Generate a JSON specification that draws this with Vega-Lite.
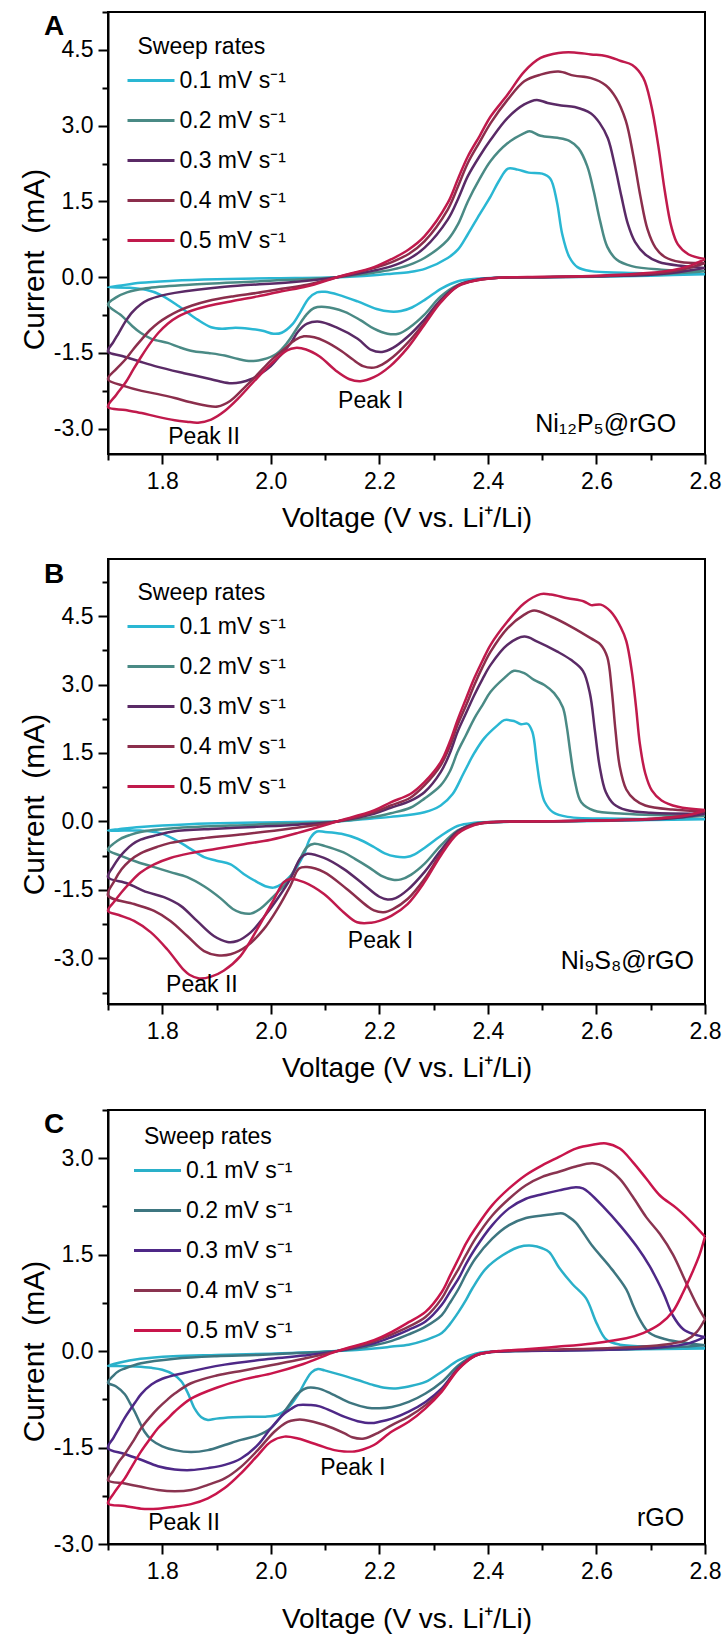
{
"$schema": "https://vega.github.io/schema/vega-lite/v6.json",
"background": "white",
"padding": {"left": 18, "top": 10, "right": 0, "bottom": 0},
"spacing": 25,
"config": {
  "font": "Liberation Sans",
  "view": {"stroke": "black", "strokeWidth": 2},
  "axis": {"domainColor": "black", "domainWidth": 2, "tickColor": "black", "tickWidth": 2, "labelFont": "Liberation Sans", "labelFontSize": 23, "labelColor": "black", "titleFont": "Liberation Sans", "titleFontSize": 30, "titleFontWeight": "normal", "titleColor": "black", "grid": false, "labelFlush": false, "labelOverlap": false},
  "axisX": {"labelPadding": 6, "titleFontSize": 28},
  "axisY": {"labelPadding": 5, "titlePadding": 4},
  "legend": {"orient": "none", "titleFont": "Liberation Sans", "titleFontSize": 23, "titleFontWeight": "normal", "titleColor": "black", "labelFont": "Liberation Sans", "labelFontSize": 23, "labelColor": "black", "symbolType": "M-2,0H2", "symbolSize": 552, "symbolStrokeWidth": 3, "labelOffset": 15, "rowPadding": 14, "titlePadding": 8, "padding": 0, "labelLimit": 400},
  "title": {"font": "Liberation Sans", "fontSize": 28, "fontWeight": "bold", "color": "black", "anchor": "start", "frame": "group", "align": "left", "baseline": "alphabetic", "offset": 0, "dx": -64, "dy": 33.5},
  "text": {"font": "Liberation Sans", "color": "black"}
},
"datasets": {
"A": [
{"r":"0.1","v":2.8,"c":0.06},{"r":"0.1","v":2.7,"c":0.03},{"r":"0.1","v":2.6,"c":0.01},{"r":"0.1","v":2.5,"c":0},{"r":"0.1","v":2.42,"c":-0.01},{"r":"0.1","v":2.38,"c":-0.03},{"r":"0.1","v":2.345,"c":-0.08},{"r":"0.1","v":2.315,"c":-0.22},{"r":"0.1","v":2.285,"c":-0.44},{"r":"0.1","v":2.26,"c":-0.6},{"r":"0.1","v":2.24,"c":-0.67},{"r":"0.1","v":2.22,"c":-0.68},{"r":"0.1","v":2.195,"c":-0.63},{"r":"0.1","v":2.16,"c":-0.48},{"r":"0.1","v":2.125,"c":-0.35},{"r":"0.1","v":2.1,"c":-0.29},{"r":"0.1","v":2.085,"c":-0.3},{"r":"0.1","v":2.07,"c":-0.42},{"r":"0.1","v":2.055,"c":-0.68},{"r":"0.1","v":2.04,"c":-0.93},{"r":"0.1","v":2.02,"c":-1.1},{"r":"0.1","v":2.005,"c":-1.12},{"r":"0.1","v":1.985,"c":-1.06},{"r":"0.1","v":1.96,"c":-1.02},{"r":"0.1","v":1.935,"c":-1.0},{"r":"0.1","v":1.91,"c":-1.02},{"r":"0.1","v":1.89,"c":-0.99},{"r":"0.1","v":1.865,"c":-0.84},{"r":"0.1","v":1.83,"c":-0.57},{"r":"0.1","v":1.795,"c":-0.34},{"r":"0.1","v":1.77,"c":-0.25},{"r":"0.1","v":1.74,"c":-0.21},{"r":"0.1","v":1.7,"c":-0.2},
{"r":"0.1","v":1.72,"c":-0.17},{"r":"0.1","v":1.76,"c":-0.11},{"r":"0.1","v":1.82,"c":-0.07},{"r":"0.1","v":1.9,"c":-0.04},{"r":"0.1","v":2.0,"c":-0.02},{"r":"0.1","v":2.122,"c":0},{"r":"0.1","v":2.19,"c":0.04},{"r":"0.1","v":2.223,"c":0.07},{"r":"0.1","v":2.254,"c":0.1},{"r":"0.1","v":2.285,"c":0.17},{"r":"0.1","v":2.326,"c":0.38},{"r":"0.1","v":2.345,"c":0.55},{"r":"0.1","v":2.363,"c":0.85},{"r":"0.1","v":2.385,"c":1.25},{"r":"0.1","v":2.405,"c":1.6},{"r":"0.1","v":2.42,"c":1.9},{"r":"0.1","v":2.437,"c":2.15},{"r":"0.1","v":2.455,"c":2.13},{"r":"0.1","v":2.475,"c":2.07},{"r":"0.1","v":2.5,"c":2.05},{"r":"0.1","v":2.515,"c":1.95},{"r":"0.1","v":2.527,"c":1.5},{"r":"0.1","v":2.537,"c":0.85},{"r":"0.1","v":2.55,"c":0.4},{"r":"0.1","v":2.565,"c":0.2},{"r":"0.1","v":2.59,"c":0.12},{"r":"0.1","v":2.65,"c":0.09},{"r":"0.1","v":2.75,"c":0.07},{"r":"0.1","v":2.8,"c":0.06},
{"r":"0.2","v":2.8,"c":0.12},{"r":"0.2","v":2.7,"c":0.05},{"r":"0.2","v":2.6,"c":0.02},{"r":"0.2","v":2.5,"c":0},{"r":"0.2","v":2.42,"c":-0.01},{"r":"0.2","v":2.38,"c":-0.05},{"r":"0.2","v":2.345,"c":-0.15},{"r":"0.2","v":2.313,"c":-0.38},{"r":"0.2","v":2.283,"c":-0.74},{"r":"0.2","v":2.255,"c":-1.0},{"r":"0.2","v":2.235,"c":-1.12},{"r":"0.2","v":2.215,"c":-1.12},{"r":"0.2","v":2.19,"c":-1.02},{"r":"0.2","v":2.165,"c":-0.85},{"r":"0.2","v":2.135,"c":-0.68},{"r":"0.2","v":2.1,"c":-0.59},{"r":"0.2","v":2.08,"c":-0.61},{"r":"0.2","v":2.065,"c":-0.75},{"r":"0.2","v":2.05,"c":-0.98},{"r":"0.2","v":2.03,"c":-1.3},{"r":"0.2","v":2.01,"c":-1.52},{"r":"0.2","v":1.985,"c":-1.63},{"r":"0.2","v":1.963,"c":-1.66},{"r":"0.2","v":1.94,"c":-1.62},{"r":"0.2","v":1.915,"c":-1.55},{"r":"0.2","v":1.885,"c":-1.5},{"r":"0.2","v":1.855,"c":-1.46},{"r":"0.2","v":1.83,"c":-1.38},{"r":"0.2","v":1.81,"c":-1.3},{"r":"0.2","v":1.78,"c":-1.22},{"r":"0.2","v":1.76,"c":-1.1},{"r":"0.2","v":1.745,"c":-0.97},{"r":"0.2","v":1.726,"c":-0.77},{"r":"0.2","v":1.7,"c":-0.54},
{"r":"0.2","v":1.715,"c":-0.4},{"r":"0.2","v":1.735,"c":-0.3},{"r":"0.2","v":1.77,"c":-0.22},{"r":"0.2","v":1.85,"c":-0.15},{"r":"0.2","v":1.98,"c":-0.08},{"r":"0.2","v":2.122,"c":0},{"r":"0.2","v":2.19,"c":0.09},{"r":"0.2","v":2.223,"c":0.15},{"r":"0.2","v":2.254,"c":0.24},{"r":"0.2","v":2.283,"c":0.38},{"r":"0.2","v":2.326,"c":0.74},{"r":"0.2","v":2.345,"c":1.05},{"r":"0.2","v":2.363,"c":1.5},{"r":"0.2","v":2.385,"c":1.95},{"r":"0.2","v":2.405,"c":2.3},{"r":"0.2","v":2.436,"c":2.65},{"r":"0.2","v":2.467,"c":2.85},{"r":"0.2","v":2.477,"c":2.89},{"r":"0.2","v":2.497,"c":2.8},{"r":"0.2","v":2.528,"c":2.76},{"r":"0.2","v":2.55,"c":2.7},{"r":"0.2","v":2.567,"c":2.55},{"r":"0.2","v":2.583,"c":2.2},{"r":"0.2","v":2.595,"c":1.7},{"r":"0.2","v":2.607,"c":1.1},{"r":"0.2","v":2.62,"c":0.6},{"r":"0.2","v":2.637,"c":0.35},{"r":"0.2","v":2.665,"c":0.22},{"r":"0.2","v":2.72,"c":0.15},{"r":"0.2","v":2.8,"c":0.12},
{"r":"0.3","v":2.8,"c":0.18},{"r":"0.3","v":2.75,"c":0.1},{"r":"0.3","v":2.7,"c":0.05},{"r":"0.3","v":2.6,"c":0.02},{"r":"0.3","v":2.5,"c":0},{"r":"0.3","v":2.42,"c":-0.01},{"r":"0.3","v":2.38,"c":-0.05},{"r":"0.3","v":2.345,"c":-0.16},{"r":"0.3","v":2.313,"c":-0.45},{"r":"0.3","v":2.283,"c":-0.84},{"r":"0.3","v":2.252,"c":-1.18},{"r":"0.3","v":2.225,"c":-1.4},{"r":"0.3","v":2.205,"c":-1.48},{"r":"0.3","v":2.185,"c":-1.44},{"r":"0.3","v":2.16,"c":-1.22},{"r":"0.3","v":2.12,"c":-0.99},{"r":"0.3","v":2.09,"c":-0.88},{"r":"0.3","v":2.067,"c":-0.92},{"r":"0.3","v":2.05,"c":-1.08},{"r":"0.3","v":2.037,"c":-1.3},{"r":"0.3","v":2.015,"c":-1.58},{"r":"0.3","v":2.0,"c":-1.76},{"r":"0.3","v":1.98,"c":-1.92},{"r":"0.3","v":1.963,"c":-2.02},{"r":"0.3","v":1.945,"c":-2.08},{"r":"0.3","v":1.927,"c":-2.1},{"r":"0.3","v":1.905,"c":-2.06},{"r":"0.3","v":1.89,"c":-2.02},{"r":"0.3","v":1.84,"c":-1.9},{"r":"0.3","v":1.79,"c":-1.77},{"r":"0.3","v":1.756,"c":-1.66},{"r":"0.3","v":1.726,"c":-1.56},{"r":"0.3","v":1.7,"c":-1.47},
{"r":"0.3","v":1.71,"c":-1.28},{"r":"0.3","v":1.72,"c":-1.1},{"r":"0.3","v":1.732,"c":-0.88},{"r":"0.3","v":1.744,"c":-0.7},{"r":"0.3","v":1.76,"c":-0.54},{"r":"0.3","v":1.774,"c":-0.45},{"r":"0.3","v":1.8,"c":-0.36},{"r":"0.3","v":1.823,"c":-0.31},{"r":"0.3","v":1.915,"c":-0.19},{"r":"0.3","v":2.037,"c":-0.1},{"r":"0.3","v":2.122,"c":0},{"r":"0.3","v":2.19,"c":0.13},{"r":"0.3","v":2.223,"c":0.22},{"r":"0.3","v":2.254,"c":0.36},{"r":"0.3","v":2.283,"c":0.58},{"r":"0.3","v":2.326,"c":1.14},{"r":"0.3","v":2.345,"c":1.55},{"r":"0.3","v":2.363,"c":2.0},{"r":"0.3","v":2.385,"c":2.4},{"r":"0.3","v":2.405,"c":2.72},{"r":"0.3","v":2.436,"c":3.15},{"r":"0.3","v":2.467,"c":3.42},{"r":"0.3","v":2.49,"c":3.51},{"r":"0.3","v":2.51,"c":3.45},{"r":"0.3","v":2.535,"c":3.4},{"r":"0.3","v":2.56,"c":3.37},{"r":"0.3","v":2.59,"c":3.24},{"r":"0.3","v":2.606,"c":3.05},{"r":"0.3","v":2.621,"c":2.75},{"r":"0.3","v":2.634,"c":2.2},{"r":"0.3","v":2.646,"c":1.6},{"r":"0.3","v":2.658,"c":1.05},{"r":"0.3","v":2.671,"c":0.7},{"r":"0.3","v":2.69,"c":0.45},{"r":"0.3","v":2.715,"c":0.3},{"r":"0.3","v":2.76,"c":0.22},{"r":"0.3","v":2.8,"c":0.18},
{"r":"0.4","v":2.8,"c":0.28},{"r":"0.4","v":2.77,"c":0.18},{"r":"0.4","v":2.73,"c":0.1},{"r":"0.4","v":2.68,"c":0.06},{"r":"0.4","v":2.6,"c":0.02},{"r":"0.4","v":2.5,"c":0},{"r":"0.4","v":2.42,"c":-0.01},{"r":"0.4","v":2.38,"c":-0.06},{"r":"0.4","v":2.345,"c":-0.17},{"r":"0.4","v":2.313,"c":-0.48},{"r":"0.4","v":2.283,"c":-0.9},{"r":"0.4","v":2.252,"c":-1.3},{"r":"0.4","v":2.225,"c":-1.58},{"r":"0.4","v":2.205,"c":-1.73},{"r":"0.4","v":2.19,"c":-1.79},{"r":"0.4","v":2.17,"c":-1.76},{"r":"0.4","v":2.15,"c":-1.62},{"r":"0.4","v":2.13,"c":-1.46},{"r":"0.4","v":2.1,"c":-1.27},{"r":"0.4","v":2.08,"c":-1.19},{"r":"0.4","v":2.061,"c":-1.17},{"r":"0.4","v":2.045,"c":-1.24},{"r":"0.4","v":2.025,"c":-1.42},{"r":"0.4","v":2.0,"c":-1.65},{"r":"0.4","v":1.975,"c":-1.93},{"r":"0.4","v":1.95,"c":-2.2},{"r":"0.4","v":1.925,"c":-2.45},{"r":"0.4","v":1.902,"c":-2.56},{"r":"0.4","v":1.88,"c":-2.54},{"r":"0.4","v":1.85,"c":-2.47},{"r":"0.4","v":1.823,"c":-2.39},{"r":"0.4","v":1.79,"c":-2.31},{"r":"0.4","v":1.762,"c":-2.25},{"r":"0.4","v":1.732,"c":-2.16},{"r":"0.4","v":1.7,"c":-2.02},
{"r":"0.4","v":1.715,"c":-1.82},{"r":"0.4","v":1.732,"c":-1.63},{"r":"0.4","v":1.747,"c":-1.42},{"r":"0.4","v":1.762,"c":-1.23},{"r":"0.4","v":1.777,"c":-1.05},{"r":"0.4","v":1.793,"c":-0.9},{"r":"0.4","v":1.81,"c":-0.78},{"r":"0.4","v":1.829,"c":-0.67},{"r":"0.4","v":1.855,"c":-0.56},{"r":"0.4","v":1.884,"c":-0.47},{"r":"0.4","v":1.93,"c":-0.38},{"r":"0.4","v":1.976,"c":-0.31},{"r":"0.4","v":2.02,"c":-0.23},{"r":"0.4","v":2.067,"c":-0.15},{"r":"0.4","v":2.122,"c":0},{"r":"0.4","v":2.19,"c":0.18},{"r":"0.4","v":2.223,"c":0.3},{"r":"0.4","v":2.254,"c":0.46},{"r":"0.4","v":2.283,"c":0.71},{"r":"0.4","v":2.326,"c":1.34},{"r":"0.4","v":2.345,"c":1.8},{"r":"0.4","v":2.363,"c":2.26},{"r":"0.4","v":2.385,"c":2.68},{"r":"0.4","v":2.405,"c":3.05},{"r":"0.4","v":2.436,"c":3.51},{"r":"0.4","v":2.467,"c":3.88},{"r":"0.4","v":2.497,"c":4.01},{"r":"0.4","v":2.53,"c":4.07},{"r":"0.4","v":2.559,"c":3.99},{"r":"0.4","v":2.59,"c":3.94},{"r":"0.4","v":2.617,"c":3.8},{"r":"0.4","v":2.636,"c":3.55},{"r":"0.4","v":2.654,"c":3.1},{"r":"0.4","v":2.668,"c":2.4},{"r":"0.4","v":2.681,"c":1.6},{"r":"0.4","v":2.694,"c":0.95},{"r":"0.4","v":2.709,"c":0.58},{"r":"0.4","v":2.726,"c":0.4},{"r":"0.4","v":2.755,"c":0.3},{"r":"0.4","v":2.8,"c":0.28},
{"r":"0.5","v":2.8,"c":0.36},{"r":"0.5","v":2.77,"c":0.22},{"r":"0.5","v":2.74,"c":0.14},{"r":"0.5","v":2.7,"c":0.09},{"r":"0.5","v":2.6,"c":0.03},{"r":"0.5","v":2.5,"c":0.01},{"r":"0.5","v":2.42,"c":-0.01},{"r":"0.5","v":2.38,"c":-0.06},{"r":"0.5","v":2.345,"c":-0.18},{"r":"0.5","v":2.313,"c":-0.5},{"r":"0.5","v":2.283,"c":-0.94},{"r":"0.5","v":2.252,"c":-1.4},{"r":"0.5","v":2.22,"c":-1.76},{"r":"0.5","v":2.19,"c":-1.98},{"r":"0.5","v":2.165,"c":-2.06},{"r":"0.5","v":2.145,"c":-2.02},{"r":"0.5","v":2.12,"c":-1.85},{"r":"0.5","v":2.09,"c":-1.57},{"r":"0.5","v":2.065,"c":-1.43},{"r":"0.5","v":2.045,"c":-1.4},{"r":"0.5","v":2.03,"c":-1.45},{"r":"0.5","v":2.0,"c":-1.72},{"r":"0.5","v":1.97,"c":-2.05},{"r":"0.5","v":1.94,"c":-2.4},{"r":"0.5","v":1.915,"c":-2.65},{"r":"0.5","v":1.89,"c":-2.82},{"r":"0.5","v":1.866,"c":-2.88},{"r":"0.5","v":1.845,"c":-2.86},{"r":"0.5","v":1.823,"c":-2.83},{"r":"0.5","v":1.79,"c":-2.76},{"r":"0.5","v":1.762,"c":-2.69},{"r":"0.5","v":1.732,"c":-2.63},{"r":"0.5","v":1.7,"c":-2.57},
{"r":"0.5","v":1.715,"c":-2.33},{"r":"0.5","v":1.732,"c":-2.09},{"r":"0.5","v":1.747,"c":-1.82},{"r":"0.5","v":1.762,"c":-1.56},{"r":"0.5","v":1.777,"c":-1.32},{"r":"0.5","v":1.793,"c":-1.1},{"r":"0.5","v":1.81,"c":-0.92},{"r":"0.5","v":1.829,"c":-0.78},{"r":"0.5","v":1.855,"c":-0.66},{"r":"0.5","v":1.884,"c":-0.57},{"r":"0.5","v":1.93,"c":-0.47},{"r":"0.5","v":1.976,"c":-0.38},{"r":"0.5","v":2.02,"c":-0.28},{"r":"0.5","v":2.067,"c":-0.18},{"r":"0.5","v":2.122,"c":0},{"r":"0.5","v":2.19,"c":0.2},{"r":"0.5","v":2.223,"c":0.36},{"r":"0.5","v":2.254,"c":0.55},{"r":"0.5","v":2.283,"c":0.81},{"r":"0.5","v":2.326,"c":1.47},{"r":"0.5","v":2.345,"c":1.95},{"r":"0.5","v":2.363,"c":2.39},{"r":"0.5","v":2.385,"c":2.8},{"r":"0.5","v":2.405,"c":3.18},{"r":"0.5","v":2.436,"c":3.61},{"r":"0.5","v":2.467,"c":4.07},{"r":"0.5","v":2.497,"c":4.34},{"r":"0.5","v":2.53,"c":4.44},{"r":"0.5","v":2.559,"c":4.45},{"r":"0.5","v":2.59,"c":4.41},{"r":"0.5","v":2.617,"c":4.38},{"r":"0.5","v":2.645,"c":4.28},{"r":"0.5","v":2.666,"c":4.2},{"r":"0.5","v":2.686,"c":3.95},{"r":"0.5","v":2.701,"c":3.4},{"r":"0.5","v":2.714,"c":2.6},{"r":"0.5","v":2.726,"c":1.7},{"r":"0.5","v":2.738,"c":1.0},{"r":"0.5","v":2.75,"c":0.65},{"r":"0.5","v":2.77,"c":0.45},{"r":"0.5","v":2.8,"c":0.36}
],
"B": [
{"r":"0.1","v":2.8,"c":0.05},{"r":"0.1","v":2.7,"c":0.03},{"r":"0.1","v":2.6,"c":0.01},{"r":"0.1","v":2.5,"c":0},{"r":"0.1","v":2.42,"c":-0.01},{"r":"0.1","v":2.375,"c":-0.03},{"r":"0.1","v":2.344,"c":-0.1},{"r":"0.1","v":2.313,"c":-0.32},{"r":"0.1","v":2.283,"c":-0.58},{"r":"0.1","v":2.265,"c":-0.72},{"r":"0.1","v":2.25,"c":-0.78},{"r":"0.1","v":2.23,"c":-0.77},{"r":"0.1","v":2.21,"c":-0.7},{"r":"0.1","v":2.19,"c":-0.56},{"r":"0.1","v":2.16,"c":-0.38},{"r":"0.1","v":2.13,"c":-0.27},{"r":"0.1","v":2.1,"c":-0.23},{"r":"0.1","v":2.085,"c":-0.22},{"r":"0.1","v":2.073,"c":-0.36},{"r":"0.1","v":2.061,"c":-0.72},{"r":"0.1","v":2.048,"c":-1.0},{"r":"0.1","v":2.036,"c":-1.2},{"r":"0.1","v":2.02,"c":-1.37},{"r":"0.1","v":2.005,"c":-1.45},{"r":"0.1","v":1.99,"c":-1.42},{"r":"0.1","v":1.975,"c":-1.33},{"r":"0.1","v":1.95,"c":-1.15},{"r":"0.1","v":1.926,"c":-0.94},{"r":"0.1","v":1.9,"c":-0.86},{"r":"0.1","v":1.877,"c":-0.78},{"r":"0.1","v":1.852,"c":-0.6},{"r":"0.1","v":1.821,"c":-0.38},{"r":"0.1","v":1.791,"c":-0.24},{"r":"0.1","v":1.76,"c":-0.2},{"r":"0.1","v":1.73,"c":-0.2},{"r":"0.1","v":1.7,"c":-0.2},
{"r":"0.1","v":1.72,"c":-0.17},{"r":"0.1","v":1.76,"c":-0.12},{"r":"0.1","v":1.85,"c":-0.06},{"r":"0.1","v":1.95,"c":-0.03},{"r":"0.1","v":2.05,"c":-0.01},{"r":"0.1","v":2.122,"c":0},{"r":"0.1","v":2.19,"c":0.07},{"r":"0.1","v":2.221,"c":0.1},{"r":"0.1","v":2.283,"c":0.2},{"r":"0.1","v":2.313,"c":0.35},{"r":"0.1","v":2.335,"c":0.6},{"r":"0.1","v":2.355,"c":1.05},{"r":"0.1","v":2.375,"c":1.5},{"r":"0.1","v":2.393,"c":1.82},{"r":"0.1","v":2.418,"c":2.11},{"r":"0.1","v":2.43,"c":2.22},{"r":"0.1","v":2.448,"c":2.2},{"r":"0.1","v":2.461,"c":2.13},{"r":"0.1","v":2.473,"c":2.14},{"r":"0.1","v":2.482,"c":1.96},{"r":"0.1","v":2.49,"c":1.3},{"r":"0.1","v":2.497,"c":0.75},{"r":"0.1","v":2.505,"c":0.42},{"r":"0.1","v":2.52,"c":0.2},{"r":"0.1","v":2.547,"c":0.1},{"r":"0.1","v":2.65,"c":0.06},{"r":"0.1","v":2.8,"c":0.05},
{"r":"0.2","v":2.8,"c":0.12},{"r":"0.2","v":2.7,"c":0.05},{"r":"0.2","v":2.6,"c":0.02},{"r":"0.2","v":2.5,"c":0},{"r":"0.2","v":2.42,"c":-0.01},{"r":"0.2","v":2.375,"c":-0.05},{"r":"0.2","v":2.344,"c":-0.2},{"r":"0.2","v":2.313,"c":-0.53},{"r":"0.2","v":2.283,"c":-0.93},{"r":"0.2","v":2.258,"c":-1.17},{"r":"0.2","v":2.24,"c":-1.27},{"r":"0.2","v":2.225,"c":-1.28},{"r":"0.2","v":2.205,"c":-1.2},{"r":"0.2","v":2.18,"c":-1.0},{"r":"0.2","v":2.155,"c":-0.82},{"r":"0.2","v":2.134,"c":-0.68},{"r":"0.2","v":2.1,"c":-0.54},{"r":"0.2","v":2.08,"c":-0.49},{"r":"0.2","v":2.067,"c":-0.56},{"r":"0.2","v":2.048,"c":-0.96},{"r":"0.2","v":2.03,"c":-1.32},{"r":"0.2","v":2.0,"c":-1.7},{"r":"0.2","v":1.98,"c":-1.92},{"r":"0.2","v":1.963,"c":-2.02},{"r":"0.2","v":1.945,"c":-2.0},{"r":"0.2","v":1.93,"c":-1.92},{"r":"0.2","v":1.907,"c":-1.68},{"r":"0.2","v":1.877,"c":-1.42},{"r":"0.2","v":1.846,"c":-1.22},{"r":"0.2","v":1.815,"c":-1.11},{"r":"0.2","v":1.785,"c":-1.0},{"r":"0.2","v":1.754,"c":-0.89},{"r":"0.2","v":1.723,"c":-0.75},{"r":"0.2","v":1.7,"c":-0.62},
{"r":"0.2","v":1.712,"c":-0.47},{"r":"0.2","v":1.723,"c":-0.38},{"r":"0.2","v":1.74,"c":-0.3},{"r":"0.2","v":1.76,"c":-0.23},{"r":"0.2","v":1.82,"c":-0.15},{"r":"0.2","v":1.97,"c":-0.07},{"r":"0.2","v":2.122,"c":0},{"r":"0.2","v":2.19,"c":0.1},{"r":"0.2","v":2.221,"c":0.18},{"r":"0.2","v":2.257,"c":0.3},{"r":"0.2","v":2.283,"c":0.5},{"r":"0.2","v":2.313,"c":0.79},{"r":"0.2","v":2.33,"c":1.1},{"r":"0.2","v":2.344,"c":1.52},{"r":"0.2","v":2.36,"c":1.9},{"r":"0.2","v":2.375,"c":2.26},{"r":"0.2","v":2.39,"c":2.55},{"r":"0.2","v":2.405,"c":2.84},{"r":"0.2","v":2.43,"c":3.14},{"r":"0.2","v":2.448,"c":3.3},{"r":"0.2","v":2.467,"c":3.25},{"r":"0.2","v":2.485,"c":3.1},{"r":"0.2","v":2.504,"c":2.99},{"r":"0.2","v":2.522,"c":2.81},{"r":"0.2","v":2.538,"c":2.5},{"r":"0.2","v":2.545,"c":2.1},{"r":"0.2","v":2.552,"c":1.5},{"r":"0.2","v":2.56,"c":0.9},{"r":"0.2","v":2.572,"c":0.42},{"r":"0.2","v":2.595,"c":0.24},{"r":"0.2","v":2.651,"c":0.17},{"r":"0.2","v":2.8,"c":0.12},
{"r":"0.3","v":2.8,"c":0.17},{"r":"0.3","v":2.75,"c":0.08},{"r":"0.3","v":2.7,"c":0.04},{"r":"0.3","v":2.6,"c":0.02},{"r":"0.3","v":2.5,"c":0},{"r":"0.3","v":2.42,"c":-0.01},{"r":"0.3","v":2.375,"c":-0.06},{"r":"0.3","v":2.344,"c":-0.22},{"r":"0.3","v":2.313,"c":-0.64},{"r":"0.3","v":2.283,"c":-1.11},{"r":"0.3","v":2.252,"c":-1.5},{"r":"0.3","v":2.23,"c":-1.68},{"r":"0.3","v":2.215,"c":-1.71},{"r":"0.3","v":2.2,"c":-1.65},{"r":"0.3","v":2.171,"c":-1.38},{"r":"0.3","v":2.134,"c":-1.04},{"r":"0.3","v":2.098,"c":-0.8},{"r":"0.3","v":2.067,"c":-0.71},{"r":"0.3","v":2.055,"c":-0.8},{"r":"0.3","v":2.036,"c":-1.26},{"r":"0.3","v":2.012,"c":-1.7},{"r":"0.3","v":1.987,"c":-2.1},{"r":"0.3","v":1.963,"c":-2.43},{"r":"0.3","v":1.938,"c":-2.62},{"r":"0.3","v":1.92,"c":-2.64},{"r":"0.3","v":1.895,"c":-2.51},{"r":"0.3","v":1.864,"c":-2.18},{"r":"0.3","v":1.834,"c":-1.85},{"r":"0.3","v":1.803,"c":-1.66},{"r":"0.3","v":1.772,"c":-1.55},{"r":"0.3","v":1.736,"c":-1.36},{"r":"0.3","v":1.7,"c":-1.22},
{"r":"0.3","v":1.71,"c":-0.98},{"r":"0.3","v":1.72,"c":-0.8},{"r":"0.3","v":1.73,"c":-0.66},{"r":"0.3","v":1.745,"c":-0.5},{"r":"0.3","v":1.76,"c":-0.4},{"r":"0.3","v":1.79,"c":-0.3},{"r":"0.3","v":1.82,"c":-0.22},{"r":"0.3","v":1.9,"c":-0.16},{"r":"0.3","v":1.97,"c":-0.12},{"r":"0.3","v":2.05,"c":-0.07},{"r":"0.3","v":2.122,"c":0},{"r":"0.3","v":2.19,"c":0.17},{"r":"0.3","v":2.221,"c":0.3},{"r":"0.3","v":2.257,"c":0.45},{"r":"0.3","v":2.283,"c":0.64},{"r":"0.3","v":2.313,"c":1.08},{"r":"0.3","v":2.33,"c":1.5},{"r":"0.3","v":2.344,"c":1.96},{"r":"0.3","v":2.36,"c":2.38},{"r":"0.3","v":2.375,"c":2.77},{"r":"0.3","v":2.39,"c":3.12},{"r":"0.3","v":2.405,"c":3.43},{"r":"0.3","v":2.436,"c":3.87},{"r":"0.3","v":2.467,"c":4.05},{"r":"0.3","v":2.491,"c":3.94},{"r":"0.3","v":2.528,"c":3.72},{"r":"0.3","v":2.553,"c":3.54},{"r":"0.3","v":2.575,"c":3.3},{"r":"0.3","v":2.588,"c":2.8},{"r":"0.3","v":2.597,"c":2.0},{"r":"0.3","v":2.606,"c":1.2},{"r":"0.3","v":2.617,"c":0.65},{"r":"0.3","v":2.632,"c":0.38},{"r":"0.3","v":2.655,"c":0.25},{"r":"0.3","v":2.7,"c":0.19},{"r":"0.3","v":2.8,"c":0.17},
{"r":"0.4","v":2.8,"c":0.22},{"r":"0.4","v":2.76,"c":0.12},{"r":"0.4","v":2.7,"c":0.06},{"r":"0.4","v":2.6,"c":0.02},{"r":"0.4","v":2.5,"c":0},{"r":"0.4","v":2.42,"c":-0.01},{"r":"0.4","v":2.375,"c":-0.07},{"r":"0.4","v":2.344,"c":-0.25},{"r":"0.4","v":2.313,"c":-0.71},{"r":"0.4","v":2.283,"c":-1.26},{"r":"0.4","v":2.252,"c":-1.7},{"r":"0.4","v":2.225,"c":-1.92},{"r":"0.4","v":2.208,"c":-1.99},{"r":"0.4","v":2.19,"c":-1.95},{"r":"0.4","v":2.177,"c":-1.85},{"r":"0.4","v":2.14,"c":-1.48},{"r":"0.4","v":2.098,"c":-1.11},{"r":"0.4","v":2.067,"c":-1.0},{"r":"0.4","v":2.052,"c":-1.03},{"r":"0.4","v":2.036,"c":-1.41},{"r":"0.4","v":2.012,"c":-1.92},{"r":"0.4","v":1.987,"c":-2.36},{"r":"0.4","v":1.956,"c":-2.73},{"r":"0.4","v":1.926,"c":-2.91},{"r":"0.4","v":1.901,"c":-2.93},{"r":"0.4","v":1.877,"c":-2.84},{"r":"0.4","v":1.846,"c":-2.51},{"r":"0.4","v":1.815,"c":-2.18},{"r":"0.4","v":1.785,"c":-1.96},{"r":"0.4","v":1.748,"c":-1.81},{"r":"0.4","v":1.7,"c":-1.62},
{"r":"0.4","v":1.712,"c":-1.3},{"r":"0.4","v":1.725,"c":-1.05},{"r":"0.4","v":1.74,"c":-0.86},{"r":"0.4","v":1.76,"c":-0.7},{"r":"0.4","v":1.79,"c":-0.56},{"r":"0.4","v":1.815,"c":-0.47},{"r":"0.4","v":1.88,"c":-0.36},{"r":"0.4","v":1.95,"c":-0.28},{"r":"0.4","v":2.04,"c":-0.15},{"r":"0.4","v":2.122,"c":0},{"r":"0.4","v":2.19,"c":0.2},{"r":"0.4","v":2.221,"c":0.35},{"r":"0.4","v":2.257,"c":0.52},{"r":"0.4","v":2.283,"c":0.79},{"r":"0.4","v":2.313,"c":1.23},{"r":"0.4","v":2.33,"c":1.65},{"r":"0.4","v":2.344,"c":2.11},{"r":"0.4","v":2.36,"c":2.55},{"r":"0.4","v":2.375,"c":2.99},{"r":"0.4","v":2.39,"c":3.38},{"r":"0.4","v":2.405,"c":3.72},{"r":"0.4","v":2.436,"c":4.23},{"r":"0.4","v":2.467,"c":4.53},{"r":"0.4","v":2.485,"c":4.62},{"r":"0.4","v":2.516,"c":4.49},{"r":"0.4","v":2.553,"c":4.27},{"r":"0.4","v":2.59,"c":4.01},{"r":"0.4","v":2.608,"c":3.87},{"r":"0.4","v":2.62,"c":3.6},{"r":"0.4","v":2.628,"c":2.9},{"r":"0.4","v":2.635,"c":2.0},{"r":"0.4","v":2.643,"c":1.2},{"r":"0.4","v":2.655,"c":0.7},{"r":"0.4","v":2.67,"c":0.48},{"r":"0.4","v":2.69,"c":0.35},{"r":"0.4","v":2.74,"c":0.26},{"r":"0.4","v":2.8,"c":0.22},
{"r":"0.5","v":2.8,"c":0.25},{"r":"0.5","v":2.77,"c":0.14},{"r":"0.5","v":2.72,"c":0.07},{"r":"0.5","v":2.65,"c":0.03},{"r":"0.5","v":2.55,"c":0.01},{"r":"0.5","v":2.45,"c":0},{"r":"0.5","v":2.4,"c":-0.02},{"r":"0.5","v":2.375,"c":-0.08},{"r":"0.5","v":2.344,"c":-0.27},{"r":"0.5","v":2.313,"c":-0.75},{"r":"0.5","v":2.283,"c":-1.33},{"r":"0.5","v":2.252,"c":-1.81},{"r":"0.5","v":2.222,"c":-2.07},{"r":"0.5","v":2.2,"c":-2.18},{"r":"0.5","v":2.185,"c":-2.22},{"r":"0.5","v":2.159,"c":-2.21},{"r":"0.5","v":2.134,"c":-1.99},{"r":"0.5","v":2.098,"c":-1.59},{"r":"0.5","v":2.061,"c":-1.33},{"r":"0.5","v":2.036,"c":-1.26},{"r":"0.5","v":2.024,"c":-1.33},{"r":"0.5","v":2.006,"c":-1.7},{"r":"0.5","v":1.975,"c":-2.36},{"r":"0.5","v":1.944,"c":-2.95},{"r":"0.5","v":1.913,"c":-3.27},{"r":"0.5","v":1.89,"c":-3.4},{"r":"0.5","v":1.868,"c":-3.44},{"r":"0.5","v":1.85,"c":-3.36},{"r":"0.5","v":1.84,"c":-3.26},{"r":"0.5","v":1.809,"c":-2.8},{"r":"0.5","v":1.779,"c":-2.43},{"r":"0.5","v":1.748,"c":-2.18},{"r":"0.5","v":1.72,"c":-2.05},{"r":"0.5","v":1.7,"c":-1.96},
{"r":"0.5","v":1.712,"c":-1.75},{"r":"0.5","v":1.725,"c":-1.55},{"r":"0.5","v":1.74,"c":-1.35},{"r":"0.5","v":1.76,"c":-1.12},{"r":"0.5","v":1.785,"c":-0.94},{"r":"0.5","v":1.815,"c":-0.8},{"r":"0.5","v":1.85,"c":-0.7},{"r":"0.5","v":1.9,"c":-0.6},{"r":"0.5","v":1.95,"c":-0.5},{"r":"0.5","v":2.0,"c":-0.4},{"r":"0.5","v":2.05,"c":-0.25},{"r":"0.5","v":2.122,"c":0},{"r":"0.5","v":2.19,"c":0.24},{"r":"0.5","v":2.221,"c":0.42},{"r":"0.5","v":2.257,"c":0.6},{"r":"0.5","v":2.283,"c":0.86},{"r":"0.5","v":2.313,"c":1.3},{"r":"0.5","v":2.33,"c":1.75},{"r":"0.5","v":2.344,"c":2.22},{"r":"0.5","v":2.36,"c":2.7},{"r":"0.5","v":2.375,"c":3.14},{"r":"0.5","v":2.39,"c":3.52},{"r":"0.5","v":2.405,"c":3.87},{"r":"0.5","v":2.436,"c":4.38},{"r":"0.5","v":2.467,"c":4.78},{"r":"0.5","v":2.497,"c":4.98},{"r":"0.5","v":2.516,"c":4.97},{"r":"0.5","v":2.547,"c":4.89},{"r":"0.5","v":2.577,"c":4.82},{"r":"0.5","v":2.59,"c":4.74},{"r":"0.5","v":2.608,"c":4.75},{"r":"0.5","v":2.626,"c":4.6},{"r":"0.5","v":2.645,"c":4.25},{"r":"0.5","v":2.655,"c":3.95},{"r":"0.5","v":2.665,"c":3.3},{"r":"0.5","v":2.673,"c":2.5},{"r":"0.5","v":2.68,"c":1.7},{"r":"0.5","v":2.69,"c":1.05},{"r":"0.5","v":2.702,"c":0.68},{"r":"0.5","v":2.72,"c":0.46},{"r":"0.5","v":2.75,"c":0.32},{"r":"0.5","v":2.8,"c":0.25}
],
"C": [
{"r":"0.1","v":2.8,"c":0.04},{"r":"0.1","v":2.6,"c":0.02},{"r":"0.1","v":2.45,"c":0},{"r":"0.1","v":2.4,"c":-0.01},{"r":"0.1","v":2.377,"c":-0.04},{"r":"0.1","v":2.346,"c":-0.14},{"r":"0.1","v":2.315,"c":-0.32},{"r":"0.1","v":2.285,"c":-0.48},{"r":"0.1","v":2.254,"c":-0.55},{"r":"0.1","v":2.23,"c":-0.58},{"r":"0.1","v":2.21,"c":-0.57},{"r":"0.1","v":2.19,"c":-0.53},{"r":"0.1","v":2.16,"c":-0.45},{"r":"0.1","v":2.129,"c":-0.37},{"r":"0.1","v":2.099,"c":-0.3},{"r":"0.1","v":2.087,"c":-0.28},{"r":"0.1","v":2.075,"c":-0.33},{"r":"0.1","v":2.065,"c":-0.45},{"r":"0.1","v":2.05,"c":-0.68},{"r":"0.1","v":2.031,"c":-0.89},{"r":"0.1","v":2.013,"c":-0.99},{"r":"0.1","v":1.99,"c":-1.02},{"r":"0.1","v":1.96,"c":-1.02},{"r":"0.1","v":1.93,"c":-1.03},{"r":"0.1","v":1.9,"c":-1.05},{"r":"0.1","v":1.884,"c":-1.07},{"r":"0.1","v":1.872,"c":-1.03},{"r":"0.1","v":1.86,"c":-0.9},{"r":"0.1","v":1.847,"c":-0.65},{"r":"0.1","v":1.835,"c":-0.47},{"r":"0.1","v":1.82,"c":-0.36},{"r":"0.1","v":1.8,"c":-0.29},{"r":"0.1","v":1.78,"c":-0.26},{"r":"0.1","v":1.75,"c":-0.24},{"r":"0.1","v":1.72,"c":-0.23},{"r":"0.1","v":1.7,"c":-0.23},
{"r":"0.1","v":1.72,"c":-0.18},{"r":"0.1","v":1.76,"c":-0.12},{"r":"0.1","v":1.82,"c":-0.08},{"r":"0.1","v":1.9,"c":-0.06},{"r":"0.1","v":2.0,"c":-0.04},{"r":"0.1","v":2.122,"c":0},{"r":"0.1","v":2.19,"c":0.04},{"r":"0.1","v":2.223,"c":0.07},{"r":"0.1","v":2.254,"c":0.1},{"r":"0.1","v":2.285,"c":0.17},{"r":"0.1","v":2.315,"c":0.28},{"r":"0.1","v":2.33,"c":0.42},{"r":"0.1","v":2.346,"c":0.61},{"r":"0.1","v":2.36,"c":0.8},{"r":"0.1","v":2.371,"c":0.97},{"r":"0.1","v":2.396,"c":1.28},{"r":"0.1","v":2.427,"c":1.49},{"r":"0.1","v":2.457,"c":1.62},{"r":"0.1","v":2.482,"c":1.64},{"r":"0.1","v":2.5,"c":1.6},{"r":"0.1","v":2.513,"c":1.54},{"r":"0.1","v":2.531,"c":1.3},{"r":"0.1","v":2.556,"c":1.04},{"r":"0.1","v":2.581,"c":0.82},{"r":"0.1","v":2.6,"c":0.44},{"r":"0.1","v":2.618,"c":0.18},{"r":"0.1","v":2.643,"c":0.1},{"r":"0.1","v":2.717,"c":0.07},{"r":"0.1","v":2.8,"c":0.05},
{"r":"0.2","v":2.8,"c":0.09},{"r":"0.2","v":2.7,"c":0.04},{"r":"0.2","v":2.6,"c":0.02},{"r":"0.2","v":2.45,"c":0},{"r":"0.2","v":2.4,"c":-0.02},{"r":"0.2","v":2.377,"c":-0.06},{"r":"0.2","v":2.346,"c":-0.22},{"r":"0.2","v":2.315,"c":-0.48},{"r":"0.2","v":2.285,"c":-0.66},{"r":"0.2","v":2.254,"c":-0.79},{"r":"0.2","v":2.223,"c":-0.87},{"r":"0.2","v":2.2,"c":-0.89},{"r":"0.2","v":2.178,"c":-0.88},{"r":"0.2","v":2.148,"c":-0.81},{"r":"0.2","v":2.111,"c":-0.66},{"r":"0.2","v":2.087,"c":-0.58},{"r":"0.2","v":2.068,"c":-0.57},{"r":"0.2","v":2.05,"c":-0.66},{"r":"0.2","v":2.037,"c":-0.8},{"r":"0.2","v":2.025,"c":-0.94},{"r":"0.2","v":2.0,"c":-1.2},{"r":"0.2","v":1.976,"c":-1.31},{"r":"0.2","v":1.945,"c":-1.38},{"r":"0.2","v":1.915,"c":-1.46},{"r":"0.2","v":1.884,"c":-1.54},{"r":"0.2","v":1.853,"c":-1.57},{"r":"0.2","v":1.823,"c":-1.54},{"r":"0.2","v":1.8,"c":-1.48},{"r":"0.2","v":1.78,"c":-1.38},{"r":"0.2","v":1.767,"c":-1.25},{"r":"0.2","v":1.758,"c":-1.1},{"r":"0.2","v":1.749,"c":-0.94},{"r":"0.2","v":1.74,"c":-0.8},{"r":"0.2","v":1.731,"c":-0.67},{"r":"0.2","v":1.715,"c":-0.55},{"r":"0.2","v":1.7,"c":-0.49},
{"r":"0.2","v":1.71,"c":-0.38},{"r":"0.2","v":1.72,"c":-0.31},{"r":"0.2","v":1.731,"c":-0.27},{"r":"0.2","v":1.761,"c":-0.19},{"r":"0.2","v":1.823,"c":-0.12},{"r":"0.2","v":1.9,"c":-0.08},{"r":"0.2","v":1.976,"c":-0.06},{"r":"0.2","v":2.05,"c":-0.03},{"r":"0.2","v":2.122,"c":0},{"r":"0.2","v":2.19,"c":0.09},{"r":"0.2","v":2.223,"c":0.16},{"r":"0.2","v":2.254,"c":0.26},{"r":"0.2","v":2.285,"c":0.38},{"r":"0.2","v":2.315,"c":0.56},{"r":"0.2","v":2.33,"c":0.75},{"r":"0.2","v":2.346,"c":0.97},{"r":"0.2","v":2.36,"c":1.2},{"r":"0.2","v":2.377,"c":1.44},{"r":"0.2","v":2.408,"c":1.75},{"r":"0.2","v":2.439,"c":1.96},{"r":"0.2","v":2.47,"c":2.07},{"r":"0.2","v":2.5,"c":2.11},{"r":"0.2","v":2.52,"c":2.13},{"r":"0.2","v":2.538,"c":2.14},{"r":"0.2","v":2.55,"c":2.08},{"r":"0.2","v":2.562,"c":2.0},{"r":"0.2","v":2.593,"c":1.63},{"r":"0.2","v":2.624,"c":1.32},{"r":"0.2","v":2.655,"c":0.96},{"r":"0.2","v":2.668,"c":0.7},{"r":"0.2","v":2.68,"c":0.49},{"r":"0.2","v":2.698,"c":0.28},{"r":"0.2","v":2.729,"c":0.18},{"r":"0.2","v":2.8,"c":0.09},
{"r":"0.3","v":2.8,"c":0.22},{"r":"0.3","v":2.77,"c":0.12},{"r":"0.3","v":2.72,"c":0.06},{"r":"0.3","v":2.65,"c":0.03},{"r":"0.3","v":2.55,"c":0.01},{"r":"0.3","v":2.45,"c":0},{"r":"0.3","v":2.4,"c":-0.02},{"r":"0.3","v":2.377,"c":-0.07},{"r":"0.3","v":2.346,"c":-0.26},{"r":"0.3","v":2.315,"c":-0.58},{"r":"0.3","v":2.285,"c":-0.79},{"r":"0.3","v":2.254,"c":-0.94},{"r":"0.3","v":2.223,"c":-1.05},{"r":"0.3","v":2.2,"c":-1.1},{"r":"0.3","v":2.185,"c":-1.12},{"r":"0.3","v":2.16,"c":-1.09},{"r":"0.3","v":2.135,"c":-1.02},{"r":"0.3","v":2.111,"c":-0.93},{"r":"0.3","v":2.09,"c":-0.86},{"r":"0.3","v":2.074,"c":-0.84},{"r":"0.3","v":2.05,"c":-0.84},{"r":"0.3","v":2.037,"c":-0.9},{"r":"0.3","v":2.025,"c":-0.97},{"r":"0.3","v":2.0,"c":-1.2},{"r":"0.3","v":1.976,"c":-1.46},{"r":"0.3","v":1.945,"c":-1.67},{"r":"0.3","v":1.915,"c":-1.77},{"r":"0.3","v":1.884,"c":-1.82},{"r":"0.3","v":1.853,"c":-1.85},{"r":"0.3","v":1.823,"c":-1.84},{"r":"0.3","v":1.792,"c":-1.79},{"r":"0.3","v":1.761,"c":-1.69},{"r":"0.3","v":1.731,"c":-1.6},{"r":"0.3","v":1.7,"c":-1.51},
{"r":"0.3","v":1.71,"c":-1.35},{"r":"0.3","v":1.72,"c":-1.2},{"r":"0.3","v":1.73,"c":-1.05},{"r":"0.3","v":1.74,"c":-0.92},{"r":"0.3","v":1.75,"c":-0.8},{"r":"0.3","v":1.761,"c":-0.67},{"r":"0.3","v":1.78,"c":-0.52},{"r":"0.3","v":1.8,"c":-0.43},{"r":"0.3","v":1.84,"c":-0.34},{"r":"0.3","v":1.915,"c":-0.21},{"r":"0.3","v":2.0,"c":-0.12},{"r":"0.3","v":2.06,"c":-0.07},{"r":"0.3","v":2.122,"c":0},{"r":"0.3","v":2.19,"c":0.12},{"r":"0.3","v":2.223,"c":0.22},{"r":"0.3","v":2.254,"c":0.33},{"r":"0.3","v":2.285,"c":0.46},{"r":"0.3","v":2.315,"c":0.72},{"r":"0.3","v":2.33,"c":0.92},{"r":"0.3","v":2.346,"c":1.13},{"r":"0.3","v":2.36,"c":1.36},{"r":"0.3","v":2.377,"c":1.6},{"r":"0.3","v":2.408,"c":1.96},{"r":"0.3","v":2.439,"c":2.22},{"r":"0.3","v":2.47,"c":2.37},{"r":"0.3","v":2.5,"c":2.44},{"r":"0.3","v":2.531,"c":2.5},{"r":"0.3","v":2.562,"c":2.55},{"r":"0.3","v":2.575,"c":2.53},{"r":"0.3","v":2.587,"c":2.46},{"r":"0.3","v":2.612,"c":2.25},{"r":"0.3","v":2.643,"c":1.96},{"r":"0.3","v":2.674,"c":1.63},{"r":"0.3","v":2.698,"c":1.32},{"r":"0.3","v":2.723,"c":0.91},{"r":"0.3","v":2.741,"c":0.55},{"r":"0.3","v":2.76,"c":0.34},{"r":"0.3","v":2.78,"c":0.26},{"r":"0.3","v":2.8,"c":0.22},
{"r":"0.4","v":2.8,"c":0.5},{"r":"0.4","v":2.785,"c":0.3},{"r":"0.4","v":2.765,"c":0.17},{"r":"0.4","v":2.74,"c":0.12},{"r":"0.4","v":2.7,"c":0.08},{"r":"0.4","v":2.6,"c":0.04},{"r":"0.4","v":2.5,"c":0.02},{"r":"0.4","v":2.43,"c":0},{"r":"0.4","v":2.4,"c":-0.02},{"r":"0.4","v":2.377,"c":-0.07},{"r":"0.4","v":2.346,"c":-0.27},{"r":"0.4","v":2.315,"c":-0.61},{"r":"0.4","v":2.285,"c":-0.84},{"r":"0.4","v":2.254,"c":-1.02},{"r":"0.4","v":2.223,"c":-1.15},{"r":"0.4","v":2.2,"c":-1.26},{"r":"0.4","v":2.172,"c":-1.36},{"r":"0.4","v":2.15,"c":-1.34},{"r":"0.4","v":2.136,"c":-1.28},{"r":"0.4","v":2.099,"c":-1.15},{"r":"0.4","v":2.062,"c":-1.07},{"r":"0.4","v":2.045,"c":-1.07},{"r":"0.4","v":2.031,"c":-1.1},{"r":"0.4","v":2.007,"c":-1.25},{"r":"0.4","v":1.976,"c":-1.54},{"r":"0.4","v":1.945,"c":-1.8},{"r":"0.4","v":1.915,"c":-1.98},{"r":"0.4","v":1.884,"c":-2.08},{"r":"0.4","v":1.853,"c":-2.16},{"r":"0.4","v":1.823,"c":-2.18},{"r":"0.4","v":1.792,"c":-2.16},{"r":"0.4","v":1.761,"c":-2.11},{"r":"0.4","v":1.731,"c":-2.06},{"r":"0.4","v":1.7,"c":-2.01},
{"r":"0.4","v":1.71,"c":-1.86},{"r":"0.4","v":1.72,"c":-1.72},{"r":"0.4","v":1.731,"c":-1.6},{"r":"0.4","v":1.745,"c":-1.42},{"r":"0.4","v":1.761,"c":-1.2},{"r":"0.4","v":1.777,"c":-1.03},{"r":"0.4","v":1.792,"c":-0.89},{"r":"0.4","v":1.81,"c":-0.75},{"r":"0.4","v":1.823,"c":-0.66},{"r":"0.4","v":1.853,"c":-0.5},{"r":"0.4","v":1.9,"c":-0.38},{"r":"0.4","v":1.95,"c":-0.3},{"r":"0.4","v":2.0,"c":-0.22},{"r":"0.4","v":2.06,"c":-0.12},{"r":"0.4","v":2.122,"c":0},{"r":"0.4","v":2.19,"c":0.15},{"r":"0.4","v":2.223,"c":0.26},{"r":"0.4","v":2.254,"c":0.38},{"r":"0.4","v":2.285,"c":0.53},{"r":"0.4","v":2.315,"c":0.82},{"r":"0.4","v":2.33,"c":1.05},{"r":"0.4","v":2.346,"c":1.28},{"r":"0.4","v":2.36,"c":1.5},{"r":"0.4","v":2.377,"c":1.75},{"r":"0.4","v":2.408,"c":2.11},{"r":"0.4","v":2.439,"c":2.37},{"r":"0.4","v":2.47,"c":2.58},{"r":"0.4","v":2.5,"c":2.71},{"r":"0.4","v":2.531,"c":2.79},{"r":"0.4","v":2.562,"c":2.87},{"r":"0.4","v":2.593,"c":2.92},{"r":"0.4","v":2.618,"c":2.85},{"r":"0.4","v":2.643,"c":2.68},{"r":"0.4","v":2.667,"c":2.4},{"r":"0.4","v":2.692,"c":2.08},{"r":"0.4","v":2.717,"c":1.82},{"r":"0.4","v":2.741,"c":1.5},{"r":"0.4","v":2.766,"c":1.05},{"r":"0.4","v":2.785,"c":0.72},{"r":"0.4","v":2.8,"c":0.5},
{"r":"0.5","v":2.8,"c":1.78},{"r":"0.5","v":2.79,"c":1.5},{"r":"0.5","v":2.778,"c":1.25},{"r":"0.5","v":2.76,"c":0.92},{"r":"0.5","v":2.741,"c":0.62},{"r":"0.5","v":2.717,"c":0.42},{"r":"0.5","v":2.686,"c":0.28},{"r":"0.5","v":2.655,"c":0.2},{"r":"0.5","v":2.593,"c":0.12},{"r":"0.5","v":2.531,"c":0.07},{"r":"0.5","v":2.47,"c":0.03},{"r":"0.5","v":2.42,"c":0},{"r":"0.5","v":2.4,"c":-0.02},{"r":"0.5","v":2.377,"c":-0.07},{"r":"0.5","v":2.346,"c":-0.28},{"r":"0.5","v":2.315,"c":-0.63},{"r":"0.5","v":2.285,"c":-0.89},{"r":"0.5","v":2.254,"c":-1.1},{"r":"0.5","v":2.223,"c":-1.25},{"r":"0.5","v":2.19,"c":-1.46},{"r":"0.5","v":2.17,"c":-1.53},{"r":"0.5","v":2.154,"c":-1.56},{"r":"0.5","v":2.135,"c":-1.56},{"r":"0.5","v":2.117,"c":-1.54},{"r":"0.5","v":2.087,"c":-1.46},{"r":"0.5","v":2.05,"c":-1.36},{"r":"0.5","v":2.025,"c":-1.33},{"r":"0.5","v":2.0,"c":-1.41},{"r":"0.5","v":1.976,"c":-1.62},{"r":"0.5","v":1.945,"c":-1.9},{"r":"0.5","v":1.915,"c":-2.13},{"r":"0.5","v":1.884,"c":-2.29},{"r":"0.5","v":1.853,"c":-2.38},{"r":"0.5","v":1.823,"c":-2.42},{"r":"0.5","v":1.792,"c":-2.45},{"r":"0.5","v":1.761,"c":-2.45},{"r":"0.5","v":1.731,"c":-2.41},{"r":"0.5","v":1.7,"c":-2.37},
{"r":"0.5","v":1.71,"c":-2.22},{"r":"0.5","v":1.72,"c":-2.1},{"r":"0.5","v":1.731,"c":-1.98},{"r":"0.5","v":1.745,"c":-1.78},{"r":"0.5","v":1.761,"c":-1.56},{"r":"0.5","v":1.777,"c":-1.37},{"r":"0.5","v":1.792,"c":-1.2},{"r":"0.5","v":1.81,"c":-1.05},{"r":"0.5","v":1.823,"c":-0.94},{"r":"0.5","v":1.853,"c":-0.74},{"r":"0.5","v":1.9,"c":-0.57},{"r":"0.5","v":1.95,"c":-0.44},{"r":"0.5","v":2.0,"c":-0.35},{"r":"0.5","v":2.06,"c":-0.2},{"r":"0.5","v":2.122,"c":0},{"r":"0.5","v":2.19,"c":0.17},{"r":"0.5","v":2.223,"c":0.3},{"r":"0.5","v":2.254,"c":0.45},{"r":"0.5","v":2.285,"c":0.61},{"r":"0.5","v":2.315,"c":0.92},{"r":"0.5","v":2.33,"c":1.17},{"r":"0.5","v":2.346,"c":1.44},{"r":"0.5","v":2.36,"c":1.68},{"r":"0.5","v":2.377,"c":1.91},{"r":"0.5","v":2.408,"c":2.27},{"r":"0.5","v":2.439,"c":2.53},{"r":"0.5","v":2.47,"c":2.74},{"r":"0.5","v":2.5,"c":2.89},{"r":"0.5","v":2.531,"c":3.02},{"r":"0.5","v":2.562,"c":3.15},{"r":"0.5","v":2.593,"c":3.21},{"r":"0.5","v":2.618,"c":3.23},{"r":"0.5","v":2.643,"c":3.15},{"r":"0.5","v":2.667,"c":2.94},{"r":"0.5","v":2.692,"c":2.68},{"r":"0.5","v":2.717,"c":2.42},{"r":"0.5","v":2.748,"c":2.22},{"r":"0.5","v":2.778,"c":1.98},{"r":"0.5","v":2.8,"c":1.78}
]
},
"vconcat": [
{
  "width": 597, "height": 442,
  "title": {"text": "A"},
  "resolve": {"axis": {"y": "independent"}},
  "layer": [
    {"data": {"name": "A"},
     "mark": {"type": "line", "strokeWidth": 2.5, "interpolate": "catmull-rom"},
     "encoding": {
       "x": {"field": "v", "type": "quantitative", "title": "Voltage (V vs. Li⁺/Li)", "scale": {"domain": [1.7, 2.8], "nice": false, "zero": false},
             "axis": {"values": [1.8,2.0,2.2,2.4,2.6,2.8,1.7,1.9,2.1,2.3,2.5,2.7], "labelOverlap": false, "labelExpr": "round(datum.value*10)%2==0 ? format(datum.value,'.1f') : ''", "tickSize": {"condition": {"test": "round(datum.value*10)%2==0", "value": 10}, "value": 6}, "titlePadding": 11}},
       "y": {"field": "c", "type": "quantitative", "title": "Current \u00a0(mA)", "scale": {"domain": [-3.5, 5.25], "nice": false, "zero": false},
             "axis": {"orient": "left", "values": [-3,-1.5,0,1.5,3,4.5], "tickSize": 10, "labelOverlap": false, "labelExpr": "replace(format(datum.value,'.1f'),'\u2212','-')", "titleY": 247}},
       "color": {"field": "r", "type": "nominal", "scale": {"domain": ["0.1","0.2","0.3","0.4","0.5"], "range": ["#2ab7d3","#4a8a85","#5a2a66","#8b2e4c","#c01a4c"]},
                 "legend": {"title": "Sweep rates", "legendX": 29.5, "legendY": 24, "labelExpr": "datum.label + ' mV s⁻¹'"}},
       "order": {"value": null}
     }},
    {"data": {"values": [{"t": "Peak I", "v": 2.184, "c": -2.58}, {"t": "Peak II", "v": 1.877, "c": -3.3}]},
     "mark": {"type": "text", "fontSize": 23, "align": "center", "baseline": "alphabetic"},
     "encoding": {"x": {"field": "v", "type": "quantitative", "title": "Voltage (V vs. Li⁺/Li)"}, "y": {"field": "c", "type": "quantitative", "title": null, "axis": {"orient": "left", "values": [-2.25,-0.75,0.75,2.25,3.75,5.25], "labels": false, "domain": false, "tickSize": 6}}, "text": {"field": "t"}}},
    {"data": {"values": [{"t": "Ni₁₂P₅@rGO", "v": 2.617, "c": -3.06}]},
     "mark": {"type": "text", "fontSize": 25, "align": "center", "baseline": "alphabetic"},
     "encoding": {"x": {"field": "v", "type": "quantitative", "title": "Voltage (V vs. Li⁺/Li)"}, "y": {"field": "c", "type": "quantitative", "title": null, "axis": null}, "text": {"field": "t"}}}
  ]
},
{
  "width": 597, "height": 445,
  "title": {"text": "B"},
  "resolve": {"axis": {"y": "independent"}},
  "layer": [
    {"data": {"name": "B"},
     "mark": {"type": "line", "strokeWidth": 2.5, "interpolate": "catmull-rom"},
     "encoding": {
       "x": {"field": "v", "type": "quantitative", "title": "Voltage (V vs. Li⁺/Li)", "scale": {"domain": [1.7, 2.8], "nice": false, "zero": false},
             "axis": {"values": [1.8,2.0,2.2,2.4,2.6,2.8,1.7,1.9,2.1,2.3,2.5,2.7], "labelOverlap": false, "labelExpr": "round(datum.value*10)%2==0 ? format(datum.value,'.1f') : ''", "tickSize": {"condition": {"test": "round(datum.value*10)%2==0", "value": 10}, "value": 6}, "titlePadding": 11}},
       "y": {"field": "c", "type": "quantitative", "title": "Current \u00a0(mA)", "scale": {"domain": [-4.0, 5.75], "nice": false, "zero": false},
             "axis": {"orient": "left", "values": [-3,-1.5,0,1.5,3,4.5], "tickSize": 10, "labelOverlap": false, "labelExpr": "replace(format(datum.value,'.1f'),'\u2212','-')", "titleY": 245}},
       "color": {"field": "r", "type": "nominal", "scale": {"domain": ["0.1","0.2","0.3","0.4","0.5"], "range": ["#2ab7d3","#4a8a85","#5a2a66","#8b2e4c","#c01a4c"]},
                 "legend": {"title": "Sweep rates", "legendX": 29.5, "legendY": 23, "labelExpr": "datum.label + ' mV s⁻¹'"}},
       "order": {"value": null}
     }},
    {"data": {"values": [{"t": "Peak I", "v": 2.202, "c": -2.77}, {"t": "Peak II", "v": 1.873, "c": -3.74}]},
     "mark": {"type": "text", "fontSize": 23, "align": "center", "baseline": "alphabetic"},
     "encoding": {"x": {"field": "v", "type": "quantitative", "title": "Voltage (V vs. Li⁺/Li)"}, "y": {"field": "c", "type": "quantitative", "title": null, "axis": {"orient": "left", "values": [-3.75,-2.25,-0.75,0.75,2.25,3.75,5.25], "labels": false, "domain": false, "tickSize": 6}}, "text": {"field": "t"}}},
    {"data": {"values": [{"t": "Ni₉S₈@rGO", "v": 2.657, "c": -3.23}]},
     "mark": {"type": "text", "fontSize": 25, "align": "center", "baseline": "alphabetic"},
     "encoding": {"x": {"field": "v", "type": "quantitative", "title": "Voltage (V vs. Li⁺/Li)"}, "y": {"field": "c", "type": "quantitative", "title": null, "axis": null}, "text": {"field": "t"}}}
  ]
},
{
  "width": 597, "height": 434,
  "title": {"text": "C"},
  "resolve": {"axis": {"y": "independent"}},
  "layer": [
    {"data": {"name": "C"},
     "mark": {"type": "line", "strokeWidth": 2.5, "interpolate": "catmull-rom"},
     "encoding": {
       "x": {"field": "v", "type": "quantitative", "title": "Voltage (V vs. Li⁺/Li)", "scale": {"domain": [1.7, 2.8], "nice": false, "zero": false},
             "axis": {"values": [1.8,2.0,2.2,2.4,2.6,2.8,1.7,1.9,2.1,2.3,2.5,2.7], "labelOverlap": false, "labelExpr": "round(datum.value*10)%2==0 ? format(datum.value,'.1f') : ''", "tickSize": {"condition": {"test": "round(datum.value*10)%2==0", "value": 10}, "value": 6}, "titlePadding": 22}},
       "y": {"field": "c", "type": "quantitative", "title": "Current \u00a0(mA)", "scale": {"domain": [-3.0, 3.75], "nice": false, "zero": false},
             "axis": {"orient": "left", "values": [-3,-1.5,0,1.5,3], "tickSize": 10, "labelOverlap": false, "labelExpr": "replace(format(datum.value,'.1f'),'\u2212','-')", "titleY": 241}},
       "color": {"field": "r", "type": "nominal", "scale": {"domain": ["0.1","0.2","0.3","0.4","0.5"], "range": ["#2ab0c9","#3e7680","#4e2887","#8a3450","#c8154b"]},
                 "legend": {"title": "Sweep rates", "legendX": 36, "legendY": 16, "labelExpr": "datum.label + ' mV s⁻¹'"}},
       "order": {"value": null}
     }},
    {"data": {"values": [{"t": "Peak I", "v": 2.151, "c": -1.92}, {"t": "Peak II", "v": 1.84, "c": -2.79}]},
     "mark": {"type": "text", "fontSize": 23, "align": "center", "baseline": "alphabetic"},
     "encoding": {"x": {"field": "v", "type": "quantitative", "title": "Voltage (V vs. Li⁺/Li)"}, "y": {"field": "c", "type": "quantitative", "title": null, "axis": {"orient": "left", "values": [-2.25,-0.75,0.75,2.25,3.75], "labels": false, "domain": false, "tickSize": 6}}, "text": {"field": "t"}}},
    {"data": {"values": [{"t": "rGO", "v": 2.718, "c": -2.725}]},
     "mark": {"type": "text", "fontSize": 25, "align": "center", "baseline": "alphabetic"},
     "encoding": {"x": {"field": "v", "type": "quantitative", "title": "Voltage (V vs. Li⁺/Li)"}, "y": {"field": "c", "type": "quantitative", "title": null, "axis": null}, "text": {"field": "t"}}}
  ]
}
],
"resolve": {"scale": {"x": "independent", "y": "independent", "color": "independent"}, "legend": {"color": "independent"}}
}
